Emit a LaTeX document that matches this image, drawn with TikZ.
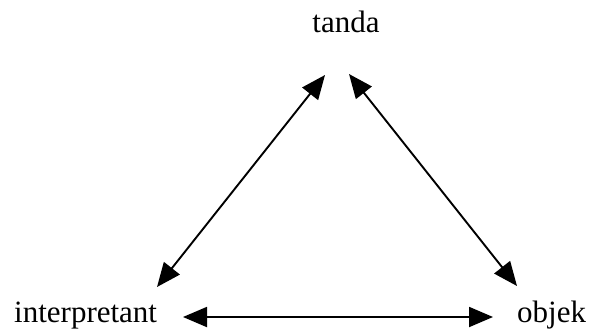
\documentclass[tikz,border=0pt]{standalone}
\usepackage{fontspec}
\setmainfont{Liberation Serif}
\usetikzlibrary{arrows.meta}
\begin{document}
\begin{tikzpicture}[x=1pt,y=-1pt,
  word/.style={font=\fontsize{31}{36}\selectfont, inner sep=0pt},
  link/.style={line width=1.9pt, {Triangle[length=24pt,width=20pt]}-{Triangle[length=24pt,width=20pt]}}]
  \useasboundingbox (0,0) rectangle (591,330);
  % the three corners of the triangle
  \node[word, anchor=base] (tanda) at (346,32) {tanda};
  \node[word, anchor=base west] (interp) at (14,322) {interpretant};
  \node[word, anchor=base west] (objek) at (517,322) {objek};
  % arrow end points beside each label
  \coordinate (tL) at (325,75);
  \coordinate (tR) at (349,74);
  \coordinate (iT) at (157,287);
  \coordinate (iR) at (183,317);
  \coordinate (oT) at (517,286);
  \coordinate (oL) at (493,317);
  \draw[link] (iT) -- (tL);
  \draw[link] (tR) -- (oT);
  \draw[link] (iR) -- (oL);
\end{tikzpicture}
\end{document}
